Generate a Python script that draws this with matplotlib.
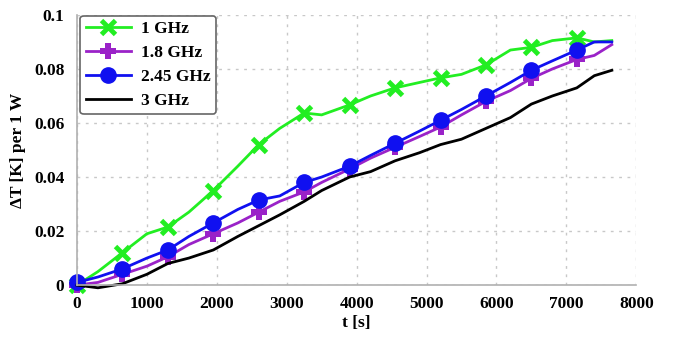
import numpy as np
import matplotlib
matplotlib.use("Agg")
import matplotlib.pyplot as plt

plt.rcParams["font.family"] = ["Liberation Serif", "DejaVu Serif"]
plt.rcParams["font.weight"] = "bold"

t = [0, 300, 650, 1000, 1300, 1600, 1950, 2300, 2600, 2900, 3250, 3500, 3900,
     4200, 4550, 4900, 5200, 5500, 5850, 6200, 6500, 6800, 7150, 7400, 7650]

dT_1ghz = [0, 0.005, 0.012, 0.019, 0.0215, 0.027, 0.035, 0.044, 0.052, 0.058,
           0.0637, 0.063, 0.0667, 0.070, 0.073, 0.075, 0.0767, 0.078, 0.0815,
           0.087, 0.088, 0.0905, 0.0915, 0.090, 0.0905]
dT_18ghz = [0, 0.001, 0.004, 0.007, 0.0105, 0.015, 0.019, 0.023, 0.027, 0.031,
            0.0345, 0.038, 0.043, 0.047, 0.051, 0.055, 0.0585, 0.063, 0.068,
            0.072, 0.0765, 0.080, 0.0835, 0.085, 0.089]
dT_245ghz = [0.001, 0.003, 0.006, 0.010, 0.013, 0.018, 0.023, 0.028, 0.0315,
             0.033, 0.038, 0.040, 0.044, 0.048, 0.0525, 0.057, 0.061, 0.065,
             0.070, 0.075, 0.0795, 0.083, 0.087, 0.090, 0.090]
dT_3ghz = [0, -0.001, 0.0005, 0.004, 0.008, 0.010, 0.013, 0.018, 0.022, 0.026,
           0.031, 0.035, 0.040, 0.042, 0.046, 0.049, 0.052, 0.054, 0.058,
           0.062, 0.067, 0.070, 0.073, 0.0775, 0.0795]

marks = [0, 2, 4, 6, 8, 10, 12, 14, 16, 18, 20, 22]

fig = plt.figure(figsize=(6.73, 3.39), dpi=100)
ax = fig.add_axes([0.1144, 0.159, 0.831, 0.797])

ax.plot(t, dT_1ghz, color="#22ee22", lw=2, marker="x", ms=10, mew=3.5,
        markevery=marks, label="1 GHz", clip_on=False)
ax.plot(t, dT_18ghz, color="#9a22c8", lw=2, marker="P", ms=11, mew=0,
        markevery=marks, label="1.8 GHz", clip_on=False)
ax.plot(t, dT_245ghz, color="#1010f0", lw=2, marker="o", ms=11,
        markevery=marks, label="2.45 GHz", clip_on=False)
ax.plot(t, dT_3ghz, color="black", lw=2, label="3 GHz", clip_on=False)

ax.set_xlim(0, 8000)
ax.set_ylim(0, 0.1)
ax.set_xticks(np.arange(0, 8001, 1000))
ax.set_yticks([0, 0.02, 0.04, 0.06, 0.08, 0.1])
ax.set_yticklabels(["0", "0.02", "0.04", "0.06", "0.08", "0.1"])
ax.tick_params(length=0, labelsize=12.5)
ax.tick_params(axis="y", pad=9)
ax.tick_params(axis="x", pad=8)
for lab in ax.get_xticklabels() + ax.get_yticklabels():
    lab.set_fontweight("bold")

ax.grid(True, linestyle=(0, (2, 4)), color="#c8c8c8", lw=1)
for s in ["top", "right"]:
    ax.spines[s].set_visible(False)
for s in ["left", "bottom"]:
    ax.spines[s].set_color("#b0b0b0")
    ax.spines[s].set_linewidth(1.2)

ax.set_xlabel("t [s]", fontsize=12.5, fontweight="bold", labelpad=2)
ax.set_ylabel("ΔT [K] per 1 W", fontsize=12.5, fontweight="bold", labelpad=6)

leg = ax.legend(loc="upper left", bbox_to_anchor=(0.0, 1.01), fontsize=12.5,
                fancybox=True, framealpha=1, edgecolor="#666666",
                handlelength=2.6, borderpad=0.3, labelspacing=0.45,
                handletextpad=0.6, borderaxespad=0.2)
leg.get_frame().set_linewidth(1.2)
for txt in leg.get_texts():
    txt.set_fontweight("bold")

fig.savefig("out.png", dpi=100)
